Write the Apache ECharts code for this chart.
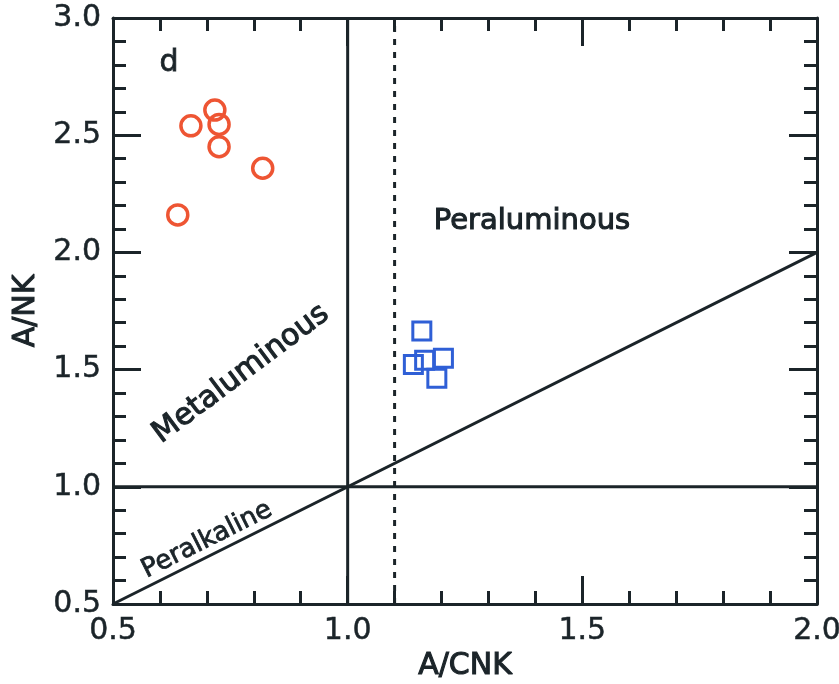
<!DOCTYPE html>
<html>
<head>
<meta charset="utf-8">
<script src="https://cdn.jsdelivr.net/npm/echarts@6/dist/echarts.min.js"></script>
<style>
  html, body { margin: 0; padding: 0; background: #ffffff; }
  #chart { width: 839px; height: 684px; }
</style>
</head>
<body>
<div id="chart"></div>
<script>
// A/CNK vs A/NK discrimination diagram (panel d)
const groupOneACNK = [0.666, 0.717, 0.726, 0.726, 0.819, 0.638];
const groupOneANK  = [2.540, 2.607, 2.546, 2.451, 2.359, 2.160];
const groupTwoACNK = [1.158, 1.140, 1.164, 1.204, 1.190];
const groupTwoANK  = [1.665, 1.522, 1.540, 1.548, 1.463];

// field boundaries
const lineEqual   = [[0.5, 0.5], [2.0, 2.0]];   // A/NK = A/CNK
const lineANK1    = [[0.5, 1.0], [2.0, 1.0]];   // A/NK = 1
const lineACNK1   = [[1.0, 0.5], [1.0, 3.0]];   // A/CNK = 1
const lineACNK11  = [[1.1, 0.5], [1.1, 3.0]];   // A/CNK = 1.1

const xTicks = { min: 0.5, max: 2.0, step: 0.5 };
const yTicks = { min: 0.5, max: 3.0, step: 0.5 };

const ink = '#1b2429';
const labelFont = 'DejaVu Sans';

function pairs(xs, ys) { return xs.map((x, i) => [x, ys[i]]); }

function axisBase(pos, showLabel, range) {
  return {
    type: 'value',
    position: pos,
    min: range.min, max: range.max, interval: range.step,
    axisLine: { show: true, onZero: false, lineStyle: { color: ink, width: 3 } },
    axisTick: { show: true, inside: true, length: 28, lineStyle: { color: ink, width: 3 } },
    minorTick: { show: true, splitNumber: 5, length: 13, lineStyle: { color: ink, width: 3 } },
    splitLine: { show: false },
    minorSplitLine: { show: false },
    axisLabel: {
      show: showLabel, color: ink, fontFamily: labelFont, fontSize: 30,
      margin: 12,
      textBorderColor: ink, textBorderWidth: 0.5,
      formatter: v => v.toFixed(1),
      showMinLabel: true, showMaxLabel: true, hideOverlap: false
    }
  };
}

const chart = echarts.init(document.getElementById('chart'), null, { renderer: 'canvas' });

const nameStyle = { color: ink, fontFamily: labelFont, fontSize: 30, fontWeight: 'normal',
                    textBorderColor: ink, textBorderWidth: 1.1 };
const xBottom = Object.assign(axisBase('bottom', true, xTicks), {
  name: 'A/CNK', nameLocation: 'middle', nameGap: 41, nameTextStyle: nameStyle
});
const xTop = axisBase('top', false, xTicks);
const yLeft = Object.assign(axisBase('left', true, yTicks), {
  name: 'A/NK', nameLocation: 'middle', nameGap: 63, nameTextStyle: nameStyle
});
const yRight = axisBase('right', false, yTicks);

function boundary(data, type) {
  return {
    type: 'line', data: data, xAxisIndex: 0, yAxisIndex: 0,
    symbol: 'none', silent: true, z: 3,
    lineStyle: { color: ink, width: 3, type: type === 'dotted' ? [6, 7] : 'solid' }
  };
}

chart.setOption({
  backgroundColor: '#ffffff',
  animation: false,
  grid: { left: 113, right: 22, top: 18, bottom: 80, containLabel: false, outerBoundsMode: 'none' },
  xAxis: [xBottom, xTop],
  yAxis: [yLeft, yRight],
  series: [
    boundary(lineEqual, 'solid'),
    boundary(lineANK1, 'solid'),
    boundary(lineACNK1, 'solid'),
    boundary(lineACNK11, 'dotted'),
    {
      type: 'scatter', data: pairs(groupOneACNK, groupOneANK),
      symbol: 'circle', symbolSize: 20, z: 4,
      itemStyle: { color: 'rgba(0,0,0,0)', borderColor: '#ee5533', borderWidth: 3.5, opacity: 1 }
    },
    {
      type: 'scatter', data: pairs(groupTwoACNK, groupTwoANK),
      symbol: 'rect', symbolSize: 18, z: 4,
      itemStyle: { color: 'rgba(0,0,0,0)', borderColor: '#2f5fd6', borderWidth: 3, opacity: 1 }
    }
  ],
  graphic: [
    { type: 'text', x: 169, y: 63, z: 10,
      style: { text: 'd', font: '30px "DejaVu Sans"', fill: ink, align: 'center', verticalAlign: 'middle',
               stroke: ink, lineWidth: 0.8 } },
    { type: 'text', x: 532, y: 221, z: 10,
      style: { text: 'Peraluminous', font: '29px "DejaVu Sans"', fill: ink, align: 'center', verticalAlign: 'middle',
               stroke: ink, lineWidth: 1.1 } },
    { type: 'text', x: 241, y: 374, rotation: 36.8 * Math.PI / 180, z: 10,
      style: { text: 'Metaluminous', font: '30px "DejaVu Sans"', fill: ink, align: 'center', verticalAlign: 'middle',
               stroke: ink, lineWidth: 1.1 } },
    { type: 'text', x: 207, y: 540, rotation: 26.6 * Math.PI / 180, z: 10,
      style: { text: 'Peralkaline', font: '26px "DejaVu Sans"', fill: ink, align: 'center', verticalAlign: 'middle',
               stroke: ink, lineWidth: 0.8 } }
  ]
});
</script>
</body>
</html>
